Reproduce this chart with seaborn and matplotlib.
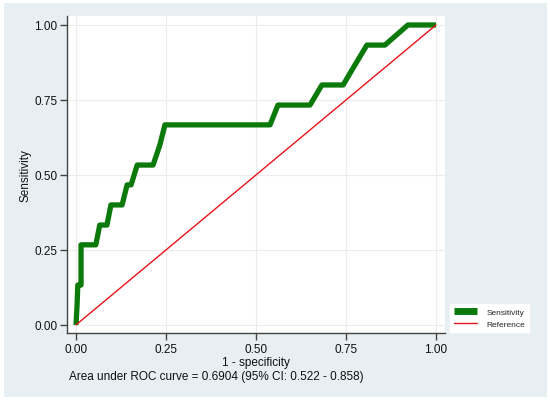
import numpy as np
import pandas as pd
import matplotlib
matplotlib.use("Agg")
import matplotlib.pyplot as plt
import seaborn as sns
from matplotlib.patches import Rectangle

# ROC curve points
one_minus_spec = [0.0, 0.003, 0.005, 0.014, 0.014, 0.055, 0.066, 0.086, 0.097, 0.128,
                  0.142, 0.153, 0.170, 0.214, 0.233, 0.247, 0.539, 0.561, 0.650, 0.683,
                  0.742, 0.775, 0.808, 0.858, 0.922, 1.0]
sensitivity = [0.0, 0.067, 0.133, 0.133, 0.267, 0.267, 0.333, 0.333, 0.400, 0.400,
               0.467, 0.467, 0.533, 0.533, 0.600, 0.667, 0.667, 0.733, 0.733, 0.800,
               0.800, 0.867, 0.933, 0.933, 1.0, 1.0]
ref_x = [0.0, 1.0]
ref_y = [0.0, 1.0]
ticks = [0.0, 0.25, 0.5, 0.75, 1.0]
tick_labels = ["0.00", "0.25", "0.50", "0.75", "1.00"]
note = "Area under ROC curve = 0.6904 (95% CI: 0.522 - 0.858)"

roc = pd.DataFrame({"x": one_minus_spec, "y": sensitivity})
ref = pd.DataFrame({"x": ref_x, "y": ref_y})

sns.set_style("ticks")
plt.rcParams['font.family'] = ['Liberation Sans', 'DejaVu Sans']

W, H = 550, 402
fig = plt.figure(figsize=(5.5, 4.02), dpi=100, facecolor="white")
# light blue-gray panel behind the plot
fig.patches.append(Rectangle((4 / W, 4 / H), (547 - 4) / W, (398 - 4) / H,
                             transform=fig.transFigure, facecolor="#e8eff2",
                             edgecolor="none", zorder=-10))

ax = fig.add_axes([67 / W, (H - 334) / H, (445 - 67) / W, (334 - 17) / H])
ax.set_facecolor("white")

# estimator=None so repeated x values are not averaged
sns.lineplot(data=roc, x="x", y="y", ax=ax, sort=False, estimator=None,
             color="#0b7a0b", linewidth=3.8, label="Sensitivity",
             solid_joinstyle="round", solid_capstyle="butt")
sns.lineplot(data=ref, x="x", y="y", ax=ax, sort=False, estimator=None,
             color="#e8141a", linewidth=1.0, label="Reference")

ax.set_xlim(-0.025, 1.025)
ax.set_ylim(-0.027, 1.03)
ax.set_xticks(ticks)
ax.set_xticklabels(tick_labels)
ax.set_yticks(ticks)
ax.set_yticklabels(tick_labels)
ax.grid(True, color="#ececec", linewidth=0.8)
ax.set_axisbelow(True)

for s in ["top", "right"]:
    ax.spines[s].set_visible(False)
for s in ["left", "bottom"]:
    ax.spines[s].set_color("#444444")
    ax.spines[s].set_linewidth(1.0)
ax.tick_params(axis="both", direction="out", length=5, width=1, color="#444444",
               labelsize=8.5, labelcolor="#111111", pad=2)

ax.set_xlabel("1 - specificity", fontsize=8.5, color="#111111")
ax.set_ylabel("Sensitivity", fontsize=8.5, color="#111111")
ax.xaxis.set_label_coords(0.5, -0.072)
ax.yaxis.set_label_coords(-0.093, 0.5)

fig.text(69 / W, (H - 377) / H, note, ha="left", va="center", fontsize=8.5,
         color="#111111")

leg = ax.legend(loc="upper left", bbox_to_anchor=(450 / W, (H - 305) / H),
                bbox_transform=fig.transFigure, frameon=True, fancybox=False,
                framealpha=1, edgecolor="white", facecolor="white", fontsize=6,
                handlelength=2.8, handletextpad=1.1, borderpad=0.45,
                labelspacing=0.55, borderaxespad=0)
leg.get_lines()[0].set_linewidth(5)

fig.savefig("out.png", dpi=100, facecolor="white")
